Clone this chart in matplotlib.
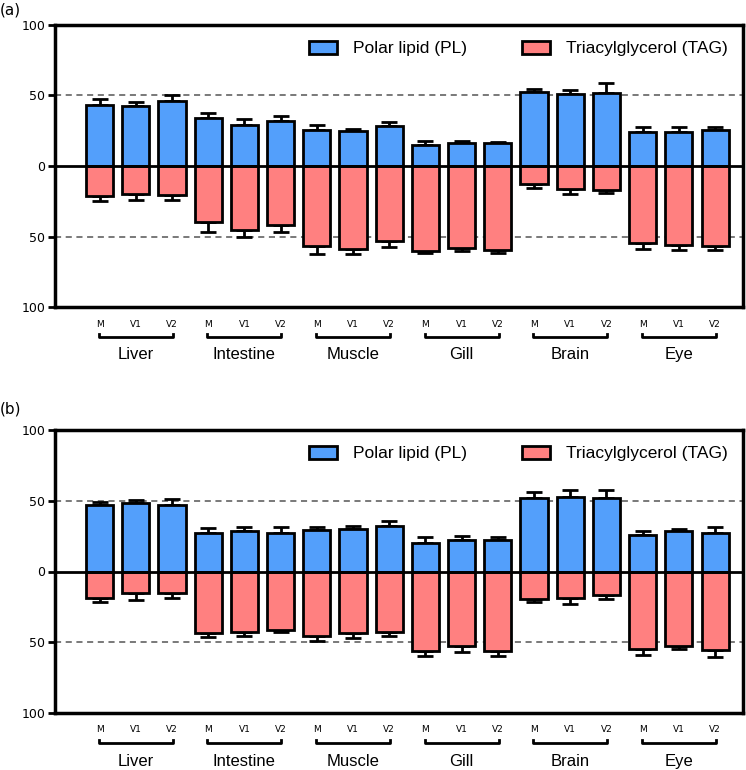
import numpy as np
import matplotlib
matplotlib.use("Agg")
import matplotlib.pyplot as plt
from matplotlib.patches import Patch
from matplotlib.ticker import FuncFormatter

# tissues and sampling groups
tissues = ["Liver", "Intestine", "Muscle", "Gill", "Brain", "Eye"]
groups = ["M", "V1", "V2"]

# panel (a) - % of total lipid
pl_a = [43.6, 42.9, 46.0, 34.3, 29.3, 31.9, 25.2, 24.5, 28.3,
        15.0, 16.0, 16.0, 52.4, 51.2, 51.7, 24.3, 24.3, 25.2]
pl_a_err = [3.8, 2.3, 4.0, 3.1, 4.0, 3.8, 4.1, 1.5, 3.1,
            2.9, 1.9, 1.1, 1.9, 2.4, 6.9, 3.3, 3.3, 2.2]
tag_a = [21.4, 20.0, 20.5, 39.8, 45.7, 42.1, 56.7, 58.6, 53.3,
         60.2, 58.3, 59.5, 13.1, 16.0, 16.9, 54.8, 55.7, 56.4]
tag_a_err = [3.6, 4.3, 3.3, 6.9, 4.8, 4.8, 5.9, 4.0, 4.1,
             1.7, 1.9, 2.4, 2.4, 3.8, 2.4, 4.0, 3.8, 2.9]

# panel (b)
pl_b = [47.1, 48.2, 46.8, 27.5, 28.5, 27.5, 29.2, 30.1, 32.0,
        20.2, 22.6, 22.1, 52.2, 52.7, 52.2, 25.9, 28.5, 27.5]
pl_b_err = [2.3, 2.4, 4.2, 3.3, 2.6, 3.6, 1.9, 2.1, 4.0,
            4.0, 2.3, 2.6, 4.0, 4.9, 5.4, 2.8, 1.4, 3.8]
tag_b = [18.8, 15.3, 15.3, 43.5, 43.1, 41.4, 45.4, 43.8, 43.1,
         56.0, 52.7, 56.0, 19.1, 18.4, 16.5, 54.8, 52.5, 55.3]
tag_b_err = [2.6, 4.7, 3.3, 3.1, 2.3, 1.2, 3.8, 3.3, 2.8,
             3.5, 4.0, 3.5, 2.3, 4.4, 3.0, 4.3, 2.3, 5.2]

blue = "#539ffb"
red = "#ff8080"

W, H = 746, 770
fig = plt.figure(figsize=(W / 100, H / 100), dpi=100)


def draw_panel(ax, pl, pl_err, tag, tag_err, letter):
    x = np.arange(len(pl))
    pl = np.array(pl)
    tag = np.array(tag)
    ax.errorbar(x, pl, yerr=[np.zeros_like(pl), pl_err], fmt="none",
                ecolor="black", elinewidth=2, capsize=6, capthick=2, zorder=2)
    ax.errorbar(x, -tag, yerr=[tag_err, np.zeros_like(tag)], fmt="none",
                ecolor="black", elinewidth=2, capsize=6, capthick=2, zorder=2)
    ax.bar(x, pl, width=0.75, color=blue, edgecolor="black", linewidth=2, zorder=3)
    ax.bar(x, -tag, width=0.75, color=red, edgecolor="black", linewidth=2, zorder=3)

    ax.axhline(0, color="black", lw=2, zorder=4)
    for yv in (50, -50):
        ax.axhline(yv, color="#555555", lw=1.1, ls=(0, (4, 3)), zorder=1)

    ax.set_xlim(-1.23, 17.77)
    ax.set_ylim(-100, 100)
    ax.set_yticks([-100, -50, 0, 50, 100])
    ax.yaxis.set_major_formatter(FuncFormatter(lambda v, p: f"{abs(int(v))}"))
    ax.tick_params(axis="y", length=5, width=2, labelsize=9, pad=2)
    ax.set_xticks(x)
    ax.set_xticklabels(groups * len(tissues), fontsize=6.5)
    ax.tick_params(axis="x", length=0, pad=9)
    for s in ax.spines.values():
        s.set_linewidth(2.5)

    trans = ax.get_xaxis_transform()
    for i, t in enumerate(tissues):
        x0, x1 = i * 3 - 0.02, i * 3 + 2 + 0.02
        yb = -0.106
        ax.plot([x0, x0, x1, x1], [yb + 0.012, yb, yb, yb + 0.012], color="black",
                lw=2, transform=trans, clip_on=False)
        ax.text(i * 3 + 1, -0.17, t, transform=trans, ha="center", va="center",
                fontsize=12, family="Liberation Sans")

    handles = [Patch(facecolor=blue, edgecolor="black", linewidth=2),
               Patch(facecolor=red, edgecolor="black", linewidth=2)]
    ax.legend(handles, ["Polar lipid (PL)", "Triacylglycerol (TAG)"], ncol=2,
              loc="upper right", bbox_to_anchor=(1.0, 1.0), frameon=False,
              prop={"family": "Liberation Sans", "size": 12.5},
              handlelength=1.6, handleheight=0.8, handletextpad=0.9,
              columnspacing=3.2, borderaxespad=0.5)


ax_a = fig.add_axes([55 / W, 1 - 307 / H, 688 / W, 282 / H])
draw_panel(ax_a, pl_a, pl_a_err, tag_a, tag_a_err, "a")
fig.text(0 / W, 1 - 10 / H, "(a)", fontsize=11, va="center", ha="left")

ax_b = fig.add_axes([55 / W, 1 - 713 / H, 688 / W, 283 / H])
draw_panel(ax_b, pl_b, pl_b_err, tag_b, tag_b_err, "b")
fig.text(0 / W, 1 - 409 / H, "(b)", fontsize=11, va="center", ha="left")

fig.savefig("out.png", dpi=100)
